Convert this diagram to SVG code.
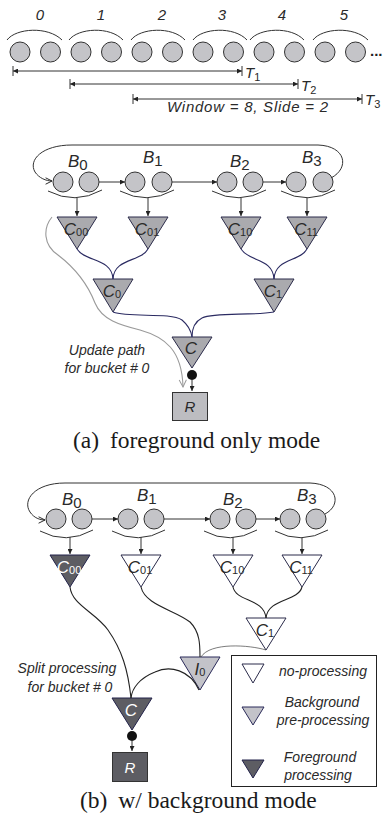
<svg xmlns="http://www.w3.org/2000/svg" width="389" height="823" viewBox="0 0 389 823">
  <defs>
    <style>
      .lbl { font-family: "Liberation Sans", Arial, sans-serif; font-style: italic; fill: #2a2a2a; }
      .sub { font-style: normal; }
      .cap { font-family: "Liberation Serif", "Times New Roman", serif; font-size: 23.5px; fill: #1a1a1a; }
      .ball { fill: #c4c4c8; stroke: #333; stroke-width: 1; }
      .triA { fill: #aaaaae; stroke: #2b2b4a; stroke-width: 1; }
      .triW { fill: #ffffff; stroke: #2b2b4a; stroke-width: 1; }
      .triG { fill: #c3c3c9; stroke: #2b2b5a; stroke-width: 1; }
      .triD { fill: #5d5d63; stroke: #22224a; stroke-width: 1; }
      .thin { fill: none; stroke: #333; stroke-width: 1; }
      .navy { fill: none; stroke: #2b2b62; stroke-width: 1.1; }
      .blk { fill: none; stroke: #222; stroke-width: 1.1; }
      .gray { fill: none; stroke: #9a9a9a; stroke-width: 1.1; }
    </style>
    <marker id="arr" viewBox="0 0 10 10" refX="10" refY="5" markerWidth="5" markerHeight="5" orient="auto-start-reverse" markerUnits="userSpaceOnUse">
      <path d="M0,0 L10,5 L0,10 Z" fill="#222"/>
    </marker>
    <marker id="vee" viewBox="0 0 10 10" refX="9" refY="5" markerWidth="8" markerHeight="8" orient="auto" markerUnits="userSpaceOnUse">
      <path d="M1,1 L9,5 L1,9" fill="none" stroke="#222" stroke-width="1.2"/>
    </marker>
    <marker id="veeGray" viewBox="0 0 10 10" refX="9" refY="5" markerWidth="9" markerHeight="9" orient="auto" markerUnits="userSpaceOnUse">
      <path d="M1,1 L9,5 L1,9" fill="none" stroke="#9a9a9a" stroke-width="1.1"/>
    </marker>
  </defs>

  <rect width="389" height="823" fill="#ffffff"/>

  <!-- ===== Sliding window overview ===== -->
  <g id="window-overview">
    <g class="lbl" font-size="15" text-anchor="middle">
      <text x="40" y="20">0</text>
      <text x="101" y="20">1</text>
      <text x="162" y="20">2</text>
      <text x="222" y="20">3</text>
      <text x="282" y="20">4</text>
      <text x="344" y="20">5</text>
    </g>
    <g class="thin">
      <path d="M7,40 C16,28 48,26 62,40"/>
      <path d="M69,40 C78,28 110,26 123,40"/>
      <path d="M131,40 C140,28 172,26 185,40"/>
      <path d="M193,40 C202,28 234,26 247,40"/>
      <path d="M250,40 C259,28 291,26 304,40"/>
      <path d="M313,40 C322,28 354,26 368,40"/>
    </g>
    <g>
      <circle class="ball" cx="20" cy="52" r="10"/>
      <circle class="ball" cx="50.5" cy="52" r="10"/>
      <circle class="ball" cx="81" cy="52" r="10"/>
      <circle class="ball" cx="111.5" cy="52" r="10"/>
      <circle class="ball" cx="142" cy="52" r="10"/>
      <circle class="ball" cx="172.5" cy="52" r="10"/>
      <circle class="ball" cx="203" cy="52" r="10"/>
      <circle class="ball" cx="233.5" cy="52" r="10"/>
      <circle class="ball" cx="264" cy="52" r="10"/>
      <circle class="ball" cx="294.5" cy="52" r="10"/>
      <circle class="ball" cx="325" cy="52" r="10"/>
      <circle class="ball" cx="355.5" cy="52" r="10"/>
    </g>
    <text x="370" y="56" font-family="Liberation Sans, Arial, sans-serif" font-weight="bold" font-size="15" fill="#222">...</text>

    <!-- window spans -->
    <g class="thin">
      <path d="M13,71 H242" marker-start="url(#arr)" marker-end="url(#arr)"/>
      <path d="M13,66 V76 M242,66 V76"/>
      <path d="M70,84 H298" marker-start="url(#arr)" marker-end="url(#arr)"/>
      <path d="M70,79 V89 M298,79 V89"/>
      <path d="M133,99 H362" marker-start="url(#arr)" marker-end="url(#arr)"/>
      <path d="M133,94 V104 M362,94 V104"/>
    </g>
    <g class="lbl" font-size="15">
      <text x="245" y="78">T<tspan class="sub" font-size="11" dy="3">1</tspan></text>
      <text x="301" y="91">T<tspan class="sub" font-size="11" dy="3">2</tspan></text>
      <text x="365" y="105">T<tspan class="sub" font-size="11" dy="3">3</tspan></text>
    </g>
    <text class="lbl" x="167" y="112" font-size="15" textLength="161" lengthAdjust="spacing">Window = 8, Slide = 2</text>
  </g>

  <!-- ===== (a) foreground only mode ===== -->
  <g id="a-buckets">
    <g id="a-B0">
      <circle class="ball" cx="63" cy="182" r="10"/>
      <circle class="ball" cx="89" cy="182" r="10"/>
      <text class="lbl" x="68" y="167" font-size="17">B<tspan class="sub" font-size="15" dy="3">0</tspan></text>
    </g>
    <g id="a-B1">
      <circle class="ball" cx="135" cy="182" r="10"/>
      <circle class="ball" cx="162" cy="182" r="10"/>
      <text class="lbl" x="143" y="163" font-size="17">B<tspan class="sub" font-size="15" dy="3">1</tspan></text>
    </g>
    <g id="a-B2">
      <circle class="ball" cx="227" cy="182" r="10"/>
      <circle class="ball" cx="253" cy="182" r="10"/>
      <text class="lbl" x="230" y="167" font-size="17">B<tspan class="sub" font-size="15" dy="3">2</tspan></text>
    </g>
    <g id="a-B3">
      <circle class="ball" cx="296" cy="182" r="10"/>
      <circle class="ball" cx="323" cy="182" r="10"/>
      <text class="lbl" x="302" y="163" font-size="17">B<tspan class="sub" font-size="15" dy="3">3</tspan></text>
    </g>
  </g>

  <g id="a-nodes">
    <g id="a-C00">
      <polygon class="triA" points="57,217 97,217 77,249"/>
      <text class="lbl" x="76" y="235" font-size="17" text-anchor="middle">C<tspan class="sub" font-size="11" dy="1">00</tspan></text>
    </g>
    <g id="a-C01">
      <polygon class="triA" points="128,217 168,217 148,249"/>
      <text class="lbl" x="147" y="235" font-size="17" text-anchor="middle">C<tspan class="sub" font-size="11" dy="1">01</tspan></text>
    </g>
    <g id="a-C10">
      <polygon class="triA" points="221,217 261,217 241,249"/>
      <text class="lbl" x="240" y="235" font-size="17" text-anchor="middle">C<tspan class="sub" font-size="11" dy="1">10</tspan></text>
    </g>
    <g id="a-C11">
      <polygon class="triA" points="287,217 327,217 307,249"/>
      <text class="lbl" x="306" y="235" font-size="17" text-anchor="middle">C<tspan class="sub" font-size="11" dy="1">11</tspan></text>
    </g>
    <g id="a-C0">
      <polygon class="triA" points="93,279 133,279 113,312"/>
      <text class="lbl" x="112" y="297" font-size="17" text-anchor="middle">C<tspan class="sub" font-size="11" dy="1">0</tspan></text>
    </g>
    <g id="a-C1">
      <polygon class="triA" points="254,279 294,279 274,312"/>
      <text class="lbl" x="273" y="297" font-size="17" text-anchor="middle">C<tspan class="sub" font-size="11" dy="1">1</tspan></text>
    </g>
    <g id="a-C">
      <polygon class="triA" points="172,337 212,337 192,368"/>
      <text class="lbl" x="191" y="354" font-size="17" text-anchor="middle">C</text>
    </g>
    <g id="a-R">
      <rect x="172.5" y="392.5" width="35" height="28" fill="#bdbdc1" stroke="#333" stroke-width="1"/>
      <text class="lbl" x="190" y="412" font-size="15" text-anchor="middle">R</text>
    </g>
    <text class="lbl" x="107" y="355" font-size="14" text-anchor="middle">Update path</text>
    <text class="lbl" x="107" y="373" font-size="14" text-anchor="middle">for bucket # 0</text>
  </g>

  <g id="a-connectors">
    <!-- ring over the buckets -->
    <path class="thin" d="M331,178 C350,168 346,146 318,145 L72,145 C42,145 28,160 35,172 C39,178 46,181 52,181" marker-end="url(#vee)"/>
    <!-- bucket to bucket -->
    <path class="thin" d="M99,182 H125" marker-end="url(#arr)"/>
    <path class="thin" d="M172,182 H217" marker-end="url(#arr)"/>
    <path class="thin" d="M263,182 H286" marker-end="url(#arr)"/>
    <!-- braces under buckets -->
    <path class="thin" d="M48,191 Q75,205 102,190"/>
    <path class="thin" d="M120,191 Q147,205 174,190"/>
    <path class="thin" d="M212,191 Q239,205 266,190"/>
    <path class="thin" d="M281,191 Q308,205 335,190"/>
    <!-- buckets to leaf combiners -->
    <path class="thin" d="M77,198 V216" marker-end="url(#arr)"/>
    <path class="thin" d="M148,198 V216" marker-end="url(#arr)"/>
    <path class="thin" d="M241,198 V216" marker-end="url(#arr)"/>
    <path class="thin" d="M307,198 V216" marker-end="url(#arr)"/>
    <!-- combiner tree -->
    <path class="navy" d="M77,249 C85,262 112,258 113,279"/>
    <path class="navy" d="M148,249 C141,262 114,258 113,279"/>
    <path class="navy" d="M241,249 C249,262 273,258 274,279"/>
    <path class="navy" d="M307,249 C300,262 275,258 274,279"/>
    <path class="navy" d="M113,312 C130,318 170,312 182,320 C188,325 191,330 192,337"/>
    <path class="navy" d="M274,312 C250,316 215,312 202,318 C194,322 192,330 192,337"/>
    <!-- result -->
    <circle cx="192" cy="375" r="5" fill="#111"/>
    <path class="thin" d="M192,380 V391" marker-end="url(#arr)"/>
    <!-- update path -->
    <path class="gray" d="M52,217 C43,228 43,245 58,255 C75,268 88,285 95,303 C102,320 120,325 140,330 C165,337 182,350 183,387" marker-end="url(#veeGray)"/>
  </g>

  <text class="cap" x="73" y="448">(a) <tspan dx="5">foreground only mode</tspan></text>

  <!-- ===== (b) w/ background mode ===== -->
  <g id="b-buckets">
    <g id="b-B0">
      <circle class="ball" cx="56" cy="519" r="10"/>
      <circle class="ball" cx="82" cy="519" r="10"/>
      <text class="lbl" x="62" y="505" font-size="17">B<tspan class="sub" font-size="15" dy="3">0</tspan></text>
    </g>
    <g id="b-B1">
      <circle class="ball" cx="128" cy="519" r="10"/>
      <circle class="ball" cx="154" cy="519" r="10"/>
      <text class="lbl" x="137" y="501" font-size="17">B<tspan class="sub" font-size="15" dy="3">1</tspan></text>
    </g>
    <g id="b-B2">
      <circle class="ball" cx="220" cy="519" r="10"/>
      <circle class="ball" cx="246" cy="519" r="10"/>
      <text class="lbl" x="223" y="505" font-size="17">B<tspan class="sub" font-size="15" dy="3">2</tspan></text>
    </g>
    <g id="b-B3">
      <circle class="ball" cx="290" cy="519" r="10"/>
      <circle class="ball" cx="316" cy="519" r="10"/>
      <text class="lbl" x="297" y="501" font-size="17">B<tspan class="sub" font-size="15" dy="3">3</tspan></text>
    </g>
  </g>

  <g id="b-nodes">
    <g id="b-C00">
      <polygon class="triD" points="50,555 90,555 70,587"/>
      <text class="lbl" x="69" y="573" font-size="17" text-anchor="middle" style="fill:#ffffff">C<tspan class="sub" font-size="11" dy="1">00</tspan></text>
    </g>
    <g id="b-C01">
      <polygon class="triW" points="121,555 161,555 141,587"/>
      <text class="lbl" x="140" y="573" font-size="17" text-anchor="middle">C<tspan class="sub" font-size="11" dy="1">01</tspan></text>
    </g>
    <g id="b-C10">
      <polygon class="triW" points="213,555 253,555 233,587"/>
      <text class="lbl" x="232" y="573" font-size="17" text-anchor="middle">C<tspan class="sub" font-size="11" dy="1">10</tspan></text>
    </g>
    <g id="b-C11">
      <polygon class="triW" points="282,555 322,555 302,587"/>
      <text class="lbl" x="301" y="573" font-size="17" text-anchor="middle">C<tspan class="sub" font-size="11" dy="1">11</tspan></text>
    </g>
    <g id="b-C1">
      <polygon class="triW" points="246,618 286,618 266,650"/>
      <text class="lbl" x="265" y="636" font-size="17" text-anchor="middle">C<tspan class="sub" font-size="11" dy="1">1</tspan></text>
    </g>
    <g id="b-I0">
      <polygon class="triG" points="180,657 220,657 200,690"/>
      <text class="lbl" x="200" y="675" font-size="17" text-anchor="middle">I<tspan class="sub" font-size="11" dy="1">0</tspan></text>
    </g>
    <g id="b-C">
      <polygon class="triD" points="112,698 152,698 132,730"/>
      <text class="lbl" x="131" y="716" font-size="17" text-anchor="middle" style="fill:#ffffff">C</text>
    </g>
    <g id="b-R">
      <rect x="112.5" y="752.5" width="35" height="29" fill="#5d5d63" stroke="#333" stroke-width="1"/>
      <text class="lbl" x="130" y="773" font-size="15" text-anchor="middle" style="fill:#ffffff">R</text>
    </g>
    <text class="lbl" x="67" y="673" font-size="14" text-anchor="middle">Split processing</text>
    <text class="lbl" x="70" y="692" font-size="14" text-anchor="middle">for bucket # 0</text>
  </g>

  <g id="b-connectors">
    <path class="thin" d="M325,514 C342,505 338,484 310,483 L65,483 C35,483 22,500 30,512 C34,518 40,520 45,520" marker-end="url(#vee)"/>
    <path class="thin" d="M92,519 H118" marker-end="url(#arr)"/>
    <path class="thin" d="M164,519 H210" marker-end="url(#arr)"/>
    <path class="thin" d="M256,519 H280" marker-end="url(#arr)"/>
    <path class="thin" d="M40,531 Q66,545 93,530"/>
    <path class="thin" d="M112,531 Q138,545 165,530"/>
    <path class="thin" d="M204,531 Q230,545 257,530"/>
    <path class="thin" d="M275,531 Q301,545 328,530"/>
    <path class="thin" d="M70,537 V554" marker-end="url(#arr)"/>
    <path class="thin" d="M141,537 V554" marker-end="url(#arr)"/>
    <path class="thin" d="M233,537 V554" marker-end="url(#arr)"/>
    <path class="thin" d="M302,537 V554" marker-end="url(#arr)"/>
    <!-- combiner tree -->
    <path class="blk" d="M70,587 C72,605 95,612 108,630 C122,650 128,670 131,698"/>
    <path class="blk" d="M141,587 C145,605 175,610 190,622 C200,632 200,645 200,657"/>
    <path class="blk" d="M233,587 C236,602 264,598 266,618"/>
    <path class="blk" d="M302,587 C298,602 268,598 266,618"/>
    <path fill="none" stroke="#444" stroke-width="0.7" d="M266,650 C250,645 210,642 201,657"/>
    <path class="blk" d="M199,690 C190,670 170,665 155,672 C140,678 132,688 131,698"/>
    <circle cx="132" cy="736" r="5" fill="#111"/>
    <path class="thin" d="M132,741 V751" marker-end="url(#arr)"/>
  </g>

  <g id="legend">
    <rect x="231.5" y="655.5" width="145" height="131" fill="#ffffff" stroke="#222" stroke-width="1"/>
    <polygon class="triW" points="242,664 264,664 253,683"/>
    <polygon class="triG" points="242,707 264,707 253,725"/>
    <polygon class="triD" points="242,760 264,760 253,778"/>
    <g class="lbl" font-size="14" text-anchor="middle">
      <text x="323" y="676">no-processing</text>
      <text x="322" y="707">Background</text>
      <text x="323" y="725">pre-processing</text>
      <text x="320" y="762">Foreground</text>
      <text x="318" y="780">processing</text>
    </g>
  </g>

  <text class="cap" x="80" y="808">(b) <tspan dx="5">w/ background mode</tspan></text>
</svg>
